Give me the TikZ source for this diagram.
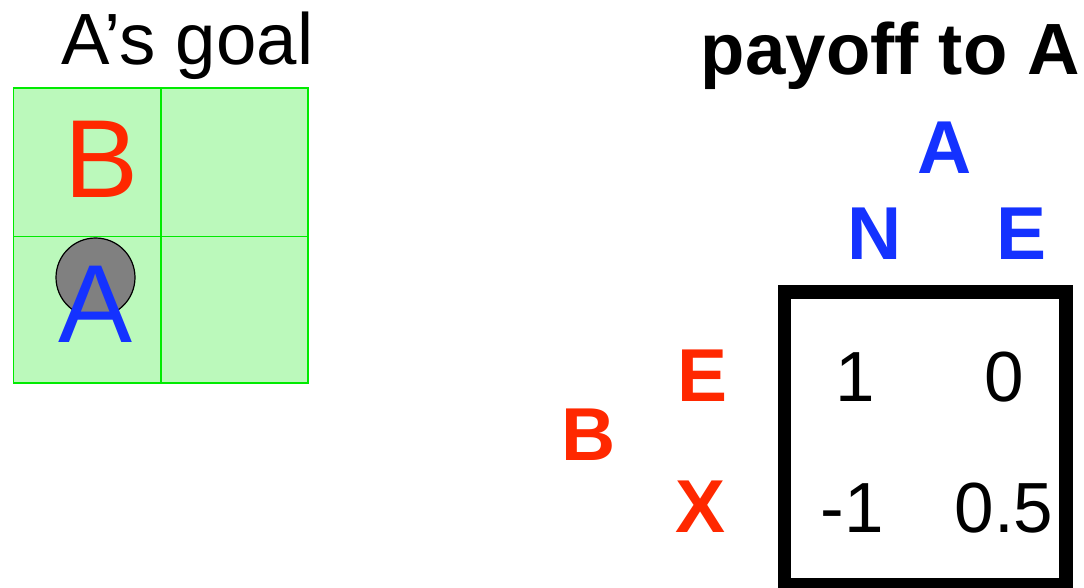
\documentclass[tikz,border=0pt]{standalone}
\usepackage{fontspec}
\setmainfont{Liberation Sans}
\definecolor{cellfill}{RGB}{187,249,187}
\definecolor{cellline}{RGB}{0,235,0}
\definecolor{playerA}{RGB}{20,50,255}
\definecolor{playerB}{RGB}{255,40,0}
\definecolor{agent}{RGB}{128,128,128}
\tikzset{
  lbl/.style={inner sep=0pt, anchor=base},
  title/.style={lbl, font=\fontsize{72.6}{80}\selectfont},
  bigletter/.style={lbl, font=\fontsize{111}{120}\selectfont},
  player/.style={lbl, font=\fontsize{75}{80}\selectfont\bfseries},
  payoff/.style={lbl, font=\fontsize{71}{80}\selectfont},
  gridline/.style={cellline, line width=1.8pt},
}
\begin{document}
\begin{tikzpicture}[x=1pt, y=-1pt]
\useasboundingbox (0,0) rectangle (1084,588);

% 2x2 grid world
\fill[cellfill] (13.5,88) rectangle (308,383);
\draw[gridline] (13.5,88) rectangle (308,383);
\draw[gridline] (161,88) -- (161,383);
\draw[gridline] (13.5,236.5) -- (308,236.5);

\node[title] (goal) at (187.5,65) {A’s goal};
\node[bigletter, text=playerB] (gB) at (101.5,198) {B};
\node[circle, draw=black, fill=agent, line width=1.2pt, minimum size=79pt, inner sep=0pt] (agentA) at (95.5,277.5) {};
\node[bigletter, text=playerA] (gA) at (96,342) {A};

% payoff matrix
\node[title, font=\fontsize{72.6}{80}\selectfont\bfseries] (ptitle) at (890.5,75) {payoff to A};
\node[player, text=playerA] (colA) at (945,174) {A};
\node[player, text=playerA] (colN) at (874.5,259) {N};
\node[player, text=playerA] (colE) at (1021.5,259) {E};
\node[player, text=playerB] (rowB) at (589,460) {B};
\node[player, text=playerB] (rowE) at (702.5,401) {E};
\node[player, text=playerB] (rowX) at (701,532) {X};

\draw[line width=13.5pt] (784.5,292) rectangle (1066,585);

\node[payoff] (p11) at (855,401) {1};
\node[payoff] (p12) at (1004.5,401) {0};
\node[payoff] (p21) at (852.5,532) {-1};
\node[payoff] (p22) at (1004,532) {0.5};
\end{tikzpicture}
\end{document}
